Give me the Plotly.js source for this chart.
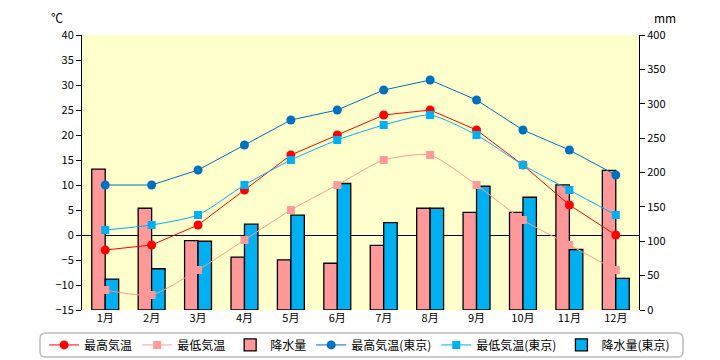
<!DOCTYPE html>
<html><head><meta charset="utf-8">
<script src="https://cdn.plot.ly/plotly-3.0.1.min.js"></script>
<style>body{margin:0;background:#fff}#c{width:720px;height:360px}</style>
</head><body><div id="c"></div>
<script>
const months = ['1月','2月','3月','4月','5月','6月','7月','8月','9月','10月','11月','12月'];
const maxTemp = [-3,-2,2,9,16,20,24,25,21,14,6,0];
const minTemp = [-11,-12,-7,-1,5,10,15,16,10,3,-2,-7];
const precip = [205,148,101,77,73,68,94,148,142,142,182,203];
const maxTempTokyo = [10,10,13,18,23,25,29,31,27,21,17,12];
const minTempTokyo = [1,2,4,10,15,19,22,24,20,14,9,4];
const precipTokyo = [45,60,100,125,138,184,127,148,180,164,88,46];

const font = 'Noto Sans CJK JP, sans-serif';
const data = [
  {type:'bar', x:months, y:precip, name:'降水量', yaxis:'y', legendrank:3,
   marker:{color:'#FF9999', line:{color:'#000', width:1.3}}},
  {type:'bar', x:months, y:precipTokyo, name:'降水量(東京)', yaxis:'y', legendrank:6,
   marker:{color:'#00B0F0', line:{color:'#000', width:1.3}}},
  {type:'scatter', mode:'lines+markers', x:months, y:maxTemp, name:'最高気温', yaxis:'y2', legendrank:1,
   line:{color:'#FF0000', width:1}, marker:{symbol:'circle', size:9, color:'#FF0000'}},
  {type:'scatter', mode:'lines+markers', x:months, y:minTemp, name:'最低気温', yaxis:'y2', legendrank:2,
   line:{color:'#FF9999', width:1, shape:'spline', smoothing:0.6}, marker:{symbol:'square', size:8, color:'#FF9999'}},
  {type:'scatter', mode:'lines+markers', x:months, y:maxTempTokyo, name:'最高気温(東京)', yaxis:'y2', legendrank:4,
   line:{color:'#0070C0', width:1}, marker:{symbol:'circle', size:9, color:'#0070C0'}},
  {type:'scatter', mode:'lines+markers', x:months, y:minTempTokyo, name:'最低気温(東京)', yaxis:'y2', legendrank:5,
   line:{color:'#00B0F0', width:1, shape:'spline', smoothing:0.6}, marker:{symbol:'square', size:8, color:'#00B0F0'}}
];
// rounded legend frame (paper coords)
const x0=-0.0754, x1=1.079, y0=-0.1709, y1=-0.0836, rx=0.010, ry=0.020;
const framePath = `M ${x0+rx} ${y1} L ${x1-rx} ${y1} Q ${x1} ${y1} ${x1} ${y1-ry} L ${x1} ${y0+ry} Q ${x1} ${y0} ${x1-rx} ${y0} L ${x0+rx} ${y0} Q ${x0} ${y0} ${x0} ${y0+ry} L ${x0} ${y1-ry} Q ${x0} ${y1} ${x0+rx} ${y1} Z`;
const layout = {
  width:720, height:360,
  margin:{l:82, r:81, t:35, b:50, autoexpand:false},
  paper_bgcolor:'#FFFFFF', plot_bgcolor:'#FFFFCC',
  font:{family:font, size:11, color:'#000'},
  barmode:'group', bargap:0.42, bargroupgap:0,
  showlegend:true,
  legend:{orientation:'h', x:-0.068, xanchor:'left', y:-0.127, yanchor:'middle',
    borderwidth:0, bgcolor:'rgba(0,0,0,0)', font:{family:font, size:12},
    tracegroupgap:0, itemwidth:30},
  xaxis:{type:'category', range:[-0.5, 11.5], autorange:false, showgrid:false, showline:false, ticks:'', zeroline:false,
    tickfont:{family:font, size:11}},
  yaxis:{side:'right', range:[0,400], dtick:50, showgrid:false, zeroline:false,
    showline:true, linecolor:'#000', linewidth:1, ticks:'outside', ticklen:5, tickcolor:'#000',
    tickfont:{family:font, size:11}},
  yaxis2:{overlaying:'y', side:'left', range:[-15,40], dtick:5, showgrid:false,
    zeroline:true, zerolinecolor:'#000', zerolinewidth:1,
    showline:true, linecolor:'#000', linewidth:1, ticks:'outside', ticklen:5, tickcolor:'#000',
    tickfont:{family:font, size:11}},
  shapes:[{type:'path', xref:'paper', yref:'paper', path:framePath, line:{color:'#BBBBBB', width:1.5}, fillcolor:'rgba(0,0,0,0)', layer:'below'}],
  annotations:[
    {text:'℃', xref:'paper', yref:'paper', x:-0.045, y:1.065, xanchor:'center', yanchor:'middle', showarrow:false, font:{family:font, size:12}},
    {text:'mm', xref:'paper', yref:'paper', x:1.047, y:1.065, xanchor:'center', yanchor:'middle', showarrow:false, font:{family:font, size:12}}
  ]
};
Plotly.newPlot('c', data, layout, {staticPlot:true});
</script></body></html>
